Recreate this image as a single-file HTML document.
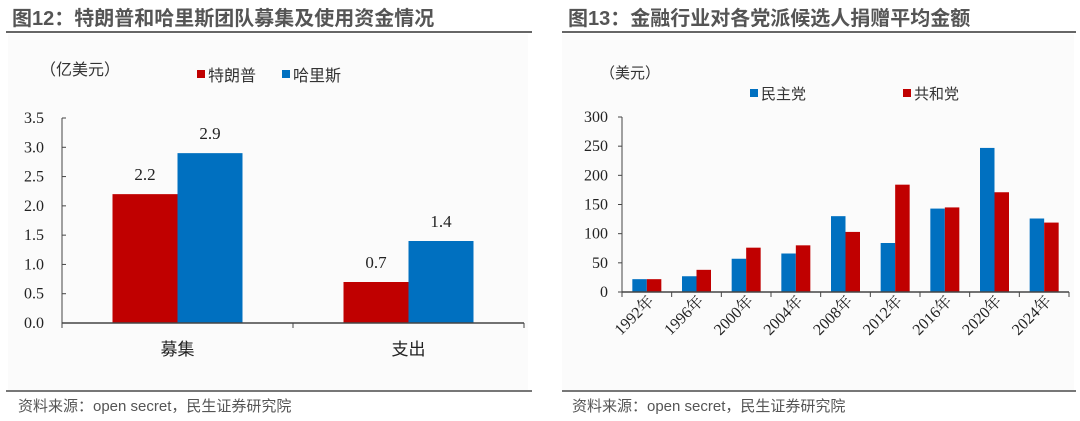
<!DOCTYPE html>
<html><head><meta charset="utf-8"><style>
body{margin:0;width:1080px;height:421px;background:#fff;overflow:hidden}
svg{display:block;font-family:"Liberation Serif","Noto Serif CJK SC",serif}
.cn{font-family:"Liberation Sans","Noto Sans CJK SC",sans-serif}
</style></head><body>
<svg id="s" width="1080" height="421" xmlns="http://www.w3.org/2000/svg">
<rect x="8" y="34" width="520" height="356" fill="#fbfbfb"/>
<rect x="562" y="34" width="512" height="356" fill="#fbfbfb"/>
<text x="12" y="25" class="cn" font-size="20" font-weight="bold" fill="#555">图12：特朗普和哈里斯团队募集及使用资金情况</text>
<text x="568" y="25" class="cn" font-size="20" font-weight="bold" fill="#555">图13：金融行业对各党派候选人捐赠平均金额</text>
<line x1="6" y1="32" x2="532" y2="32" stroke="#666" stroke-width="2"/>
<line x1="562" y1="32" x2="1076" y2="32" stroke="#666" stroke-width="2"/>
<line x1="6" y1="391" x2="532" y2="391" stroke="#777" stroke-width="2"/>
<line x1="562" y1="391" x2="1076" y2="391" stroke="#777" stroke-width="2"/>
<text x="18" y="411" class="cn" font-size="15" fill="#555">资料来源：open secret，民生证券研究院</text>
<text x="572" y="411" class="cn" font-size="15" fill="#555">资料来源：open secret，民生证券研究院</text>
<text x="40" y="75" class="cn" font-size="16" fill="#333">（亿美元）</text>
<rect x="197" y="70" width="8" height="8" fill="#c00000"/>
<text x="208" y="81" class="cn" font-size="16" fill="#333">特朗普</text>
<rect x="282" y="70" width="8" height="8" fill="#0070c0"/>
<text x="293" y="81" class="cn" font-size="16" fill="#333">哈里斯</text>
<text x="600" y="78" class="cn" font-size="15" fill="#333">（美元）</text>
<rect x="750" y="89" width="8" height="8" fill="#0070c0"/>
<text x="761" y="99" class="cn" font-size="15" fill="#333">民主党</text>
<rect x="903" y="89" width="8" height="8" fill="#c00000"/>
<text x="914" y="99" class="cn" font-size="15" fill="#333">共和党</text>
<g id="L"></g><g id="R"></g>
</svg>
<script>
const leftCats=["募集","支出"];
const trumpVals=[2.2,0.7];
const harrisVals=[2.9,1.4];
const leftTicks=[0,0.5,1,1.5,2,2.5,3,3.5];
const years=["1992年","1996年","2000年","2004年","2008年","2012年","2016年","2020年","2024年"];
const demVals=[22,27,57,66,130,84,143,247,126];
const repVals=[22,38,76,80,103,184,145,171,119];
const rightTicks=[0,50,100,150,200,250,300];
const NS="http://www.w3.org/2000/svg";
function mk(p,t,a,txt){const e=document.createElementNS(NS,t);for(const k in a)e.setAttribute(k,a[k]);if(txt!==undefined)e.textContent=txt;p.appendChild(e);return e;}
const L=document.getElementById('L');
const lx0=62,lx1=524,ly0=323,ly1=118,lmax=3.5;
const ly=v=>ly0-(v/lmax)*(ly0-ly1);
const lcw=(lx1-lx0)/leftCats.length;
leftTicks.forEach(t=>{const e=mk(L,'text',{x:lx0-18,y:ly(t)+5,'font-size':16,'text-anchor':'end',fill:'#222'},t.toFixed(1));


mk(L,'line',{x1:lx0,x2:lx0+4,y1:ly(t),y2:ly(t),stroke:'#444'});});
mk(L,'line',{x1:lx0,x2:lx0,y1:ly1,y2:ly0,stroke:'#444','stroke-width':1});
leftCats.forEach((c,i)=>{const cx=lx0+lcw*(i+0.5);const bw=65;
const r=mk(L,'rect',{x:cx-bw,y:ly(trumpVals[i]),width:bw,height:ly0-ly(trumpVals[i]),fill:'#c00000'});


const b=mk(L,'rect',{x:cx,y:ly(harrisVals[i]),width:bw,height:ly0-ly(harrisVals[i]),fill:'#0070c0'});


const t1=mk(L,'text',{x:cx-bw/2,y:ly(trumpVals[i])-14,'font-size':17,'text-anchor':'middle',fill:'#222'},trumpVals[i].toFixed(1));


const t2=mk(L,'text',{x:cx+bw/2,y:ly(harrisVals[i])-14,'font-size':17,'text-anchor':'middle',fill:'#222'},harrisVals[i].toFixed(1));


const ct=mk(L,'text',{x:cx,y:355,'font-size':17,'text-anchor':'middle',fill:'#222','class':'cn'},c);


mk(L,'line',{x1:lx0+lcw*(i+1),x2:lx0+lcw*(i+1),y1:ly0,y2:ly0+5,stroke:'#444'});});
mk(L,'line',{x1:lx0,x2:lx1,y1:ly0,y2:ly0,stroke:'#444','stroke-width':1.5});
mk(L,'line',{x1:lx0,x2:lx0,y1:ly0,y2:ly0+5,stroke:'#444'});
const R=document.getElementById('R');
const rx0=622,rx1=1069,ry0=292,ry1=117,rmax=300;
const ry=v=>ry0-(v/rmax)*(ry0-ry1);
const rcw=(rx1-rx0)/years.length;
rightTicks.forEach(t=>{const e=mk(R,'text',{x:rx0-14,y:ry(t)+5,'font-size':16,'text-anchor':'end',fill:'#222'},t);


mk(R,'line',{x1:rx0-4,x2:rx0,y1:ry(t),y2:ry(t),stroke:'#444'});});
mk(R,'line',{x1:rx0,x2:rx0,y1:ry1,y2:ry0,stroke:'#444'});
years.forEach((y,i)=>{const cx=rx0+rcw*(i+0.5);const bw=14.5;
const b=mk(R,'rect',{x:cx-bw,y:ry(demVals[i]),width:bw,height:ry0-ry(demVals[i]),fill:'#0070c0'});


const r=mk(R,'rect',{x:cx,y:ry(repVals[i]),width:bw,height:ry0-ry(repVals[i]),fill:'#c00000'});


const tx=cx+8,ty=302;
const t=mk(R,'text',{x:tx,y:ty,'font-size':16,'text-anchor':'end',fill:'#222',transform:`rotate(-45 ${tx} ${ty})`},y);


mk(R,'line',{x1:rx0+rcw*i,x2:rx0+rcw*i,y1:ry0,y2:ry0+5,stroke:'#444'});});
mk(R,'line',{x1:rx1,x2:rx1,y1:ry0,y2:ry0+5,stroke:'#444'});
mk(R,'line',{x1:rx0,x2:rx1,y1:ry0,y2:ry0,stroke:'#444','stroke-width':1.5});
</script>
</body></html>
